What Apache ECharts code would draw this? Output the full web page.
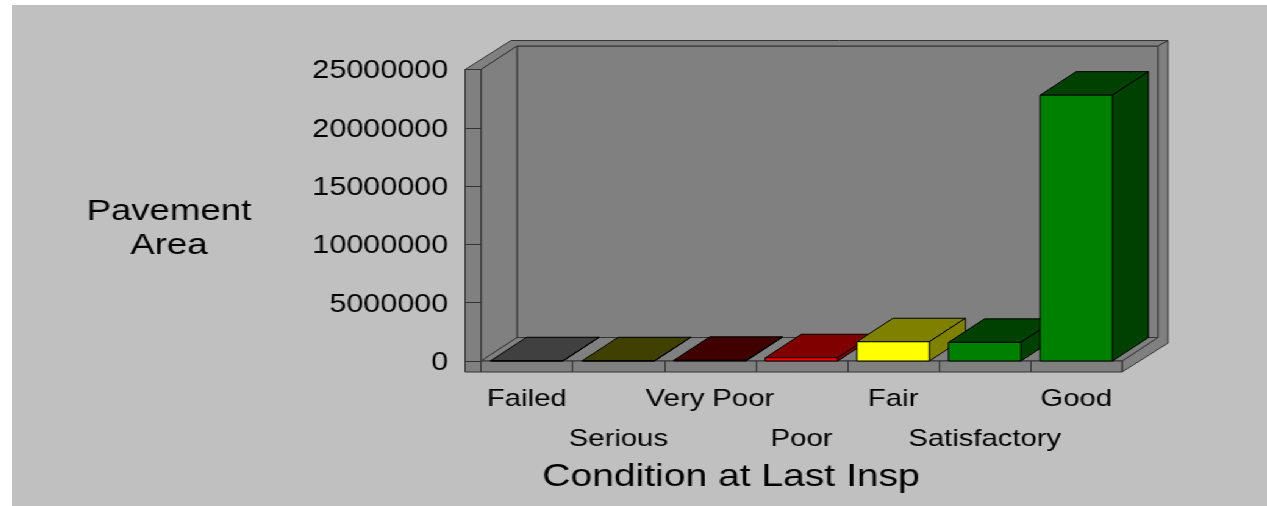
<!DOCTYPE html>
<html><head><meta charset="utf-8">
<script src="https://cdn.jsdelivr.net/npm/echarts@6.0.0/dist/echarts.min.js"></script>
<style>
html,body{margin:0;padding:0;background:#fff;width:1267px;height:506px;overflow:hidden}
#chart{position:absolute;left:12px;top:5px;width:1029px;height:501px;background:#C0C0C0;transform:scaleX(1.2196);transform-origin:0 0}
</style>
</head><body><div id="chart"></div>
<script>
// ---- data ----
const categories = ['Failed', 'Serious', 'Very Poor', 'Poor', 'Fair', 'Satisfactory', 'Good'];
const pavementArea = [20000, 20000, 60000, 280000, 1650000, 1600000, 22800000];
const valueTicks = [0, 5000000, 10000000, 15000000, 20000000, 25000000];
const yTitleLines = ['Pavement', 'Area'];
const xTitle = 'Condition at Last Insp';

// ---- styles ----
const frontColors = ['#808080', '#808000', '#800000', '#FF0000', '#FFFF00', '#008000', '#008000'];
const shadeColors = ['#404040', '#404000', '#400000', '#800000', '#808000', '#004000', '#004000'];
const FONT = '"Liberation Sans", Arial, sans-serif';
const GRAY = '#808080', EDGE = '#333';
const DEPTH = [29.5, -23.5], WALL = [37.7, -29], LEFT_WALL = 13.1, FLOOR = 11, BAR_RATIO = 0.79;

function frameItem(params, api) {
  const cs = params.coordSys;
  const X0 = cs.x, X1 = cs.x + cs.width, YT = cs.y, YF = cs.y + cs.height;
  const XL = X0 - LEFT_WALL, YB = YF + FLOOR;
  const dx = DEPTH[0], dy = DEPTH[1], wx = WALL[0], wy = WALL[1];
  const poly = pts => ({ type: 'polygon', shape: { points: pts }, style: { fill: GRAY, stroke: EDGE, lineWidth: 1 } });
  return { type: 'group', children: [
    poly([[X0 + dx, YT + dy], [X1 + dx, YT + dy], [X1 + dx, YF + dy], [X0 + dx, YF + dy]]),
    poly([[XL, YT], [X0, YT], [X0 + dx, YT + dy], [X1 + dx, YT + dy], [X1 + wx, YT + wy], [XL + wx, YT + wy]]),
    poly([[X1, YF], [X1 + dx, YF + dy], [X1 + dx, YT + dy], [X1 + wx, YT + wy], [X1 + wx, YB + wy], [X1, YB]]),
    poly([[X0, YT], [X0 + dx, YT + dy], [X0 + dx, YF + dy], [X0, YF]]),
    poly([[X0, YF], [X1, YF], [X1 + dx, YF + dy], [X0 + dx, YF + dy]]),
    poly([[XL, YT], [X0, YT], [X0, YF], [X1, YF], [X1, YB], [XL, YB]])
  ]};
}

function barItem(params, api) {
  const i = params.dataIndex;
  const v = api.value(1);
  const base = api.coord([i, 0]), top = api.coord([i, v]);
  const bw = api.size([1, 0])[0] * BAR_RATIO;
  const xl = base[0] - bw / 2, xr = base[0] + bw / 2, yb = base[1], yt = top[1];
  const dx = DEPTH[0], dy = DEPTH[1];
  const st = fill => ({ fill: fill, stroke: '#000', lineWidth: 1 });
  return { type: 'group', children: [
    { type: 'polygon', shape: { points: [[xl, yt], [xr, yt], [xr + dx, yt + dy], [xl + dx, yt + dy]] }, style: st(shadeColors[i]) },
    { type: 'polygon', shape: { points: [[xr, yt], [xr + dx, yt + dy], [xr + dx, yb + dy], [xr, yb]] }, style: st(shadeColors[i]) },
    { type: 'rect', shape: { x: xl, y: yt, width: bw, height: yb - yt }, style: st(frontColors[i]) }
  ]};
}

const chart = echarts.init(document.getElementById('chart'));
chart.setOption({
  animation: false,
  backgroundColor: 'transparent',
  grid: { left: 384.6, right: 118.8, top: 64.5, bottom: 145, containLabel: false },
  xAxis: {
    type: 'category', data: categories, z: 3, boundaryGap: true,
    axisLine: { show: false },
    axisTick: { show: true, length: FLOOR, alignWithLabel: false, interval: 0, lineStyle: { color: EDGE } },
    axisLabel: { interval: 0, margin: 18, fontSize: 24, lineHeight: 40, color: '#000', fontFamily: FONT, verticalAlign: 'top',
      formatter: (v, i) => (i % 2 ? '\n' + v : v) },
    splitLine: { show: false },
    name: xTitle, nameLocation: 'middle', nameGap: 116, nameMoveOverlap: false,
    nameTextStyle: { fontSize: 32, color: '#000', fontFamily: FONT, align: 'center', verticalAlign: 'middle', padding: [0, 115.6, 0, 0] }
  },
  yAxis: {
    type: 'value', min: valueTicks[0], max: valueTicks[valueTicks.length - 1], interval: valueTicks[1] - valueTicks[0], z: 3,
    axisLine: { show: false },
    axisTick: { show: true, length: LEFT_WALL, lineStyle: { color: EDGE } },
    axisLabel: { margin: 27, fontSize: 25, color: '#000', fontFamily: FONT, formatter: v => '{n|' + v + '}',
      rich: { n: { fontSize: 25, color: '#000', fontFamily: FONT, padding: [4, 0, 0, 0] } } },
    splitLine: { show: false },
    name: '{g|}\n' + yTitleLines.join('\n'), nameLocation: 'middle', nameGap: 255.9, nameRotate: 0, nameMoveOverlap: false,
    nameTextStyle: { fontSize: 30, lineHeight: 34, color: '#000', fontFamily: FONT, align: 'center', verticalAlign: 'middle',
      rich: { g: { lineHeight: 26, fontSize: 10, height: 26 } } }
  },
  series: [
    { type: 'custom', coordinateSystem: 'cartesian2d', data: [[0, 0]], renderItem: frameItem, z: 1, silent: true, clip: false },
    { type: 'custom', coordinateSystem: 'cartesian2d', data: categories.map((c, i) => [i, pavementArea[i]]), renderItem: barItem, z: 2, silent: true, clip: false }
  ]
});
</script>
</body></html>
